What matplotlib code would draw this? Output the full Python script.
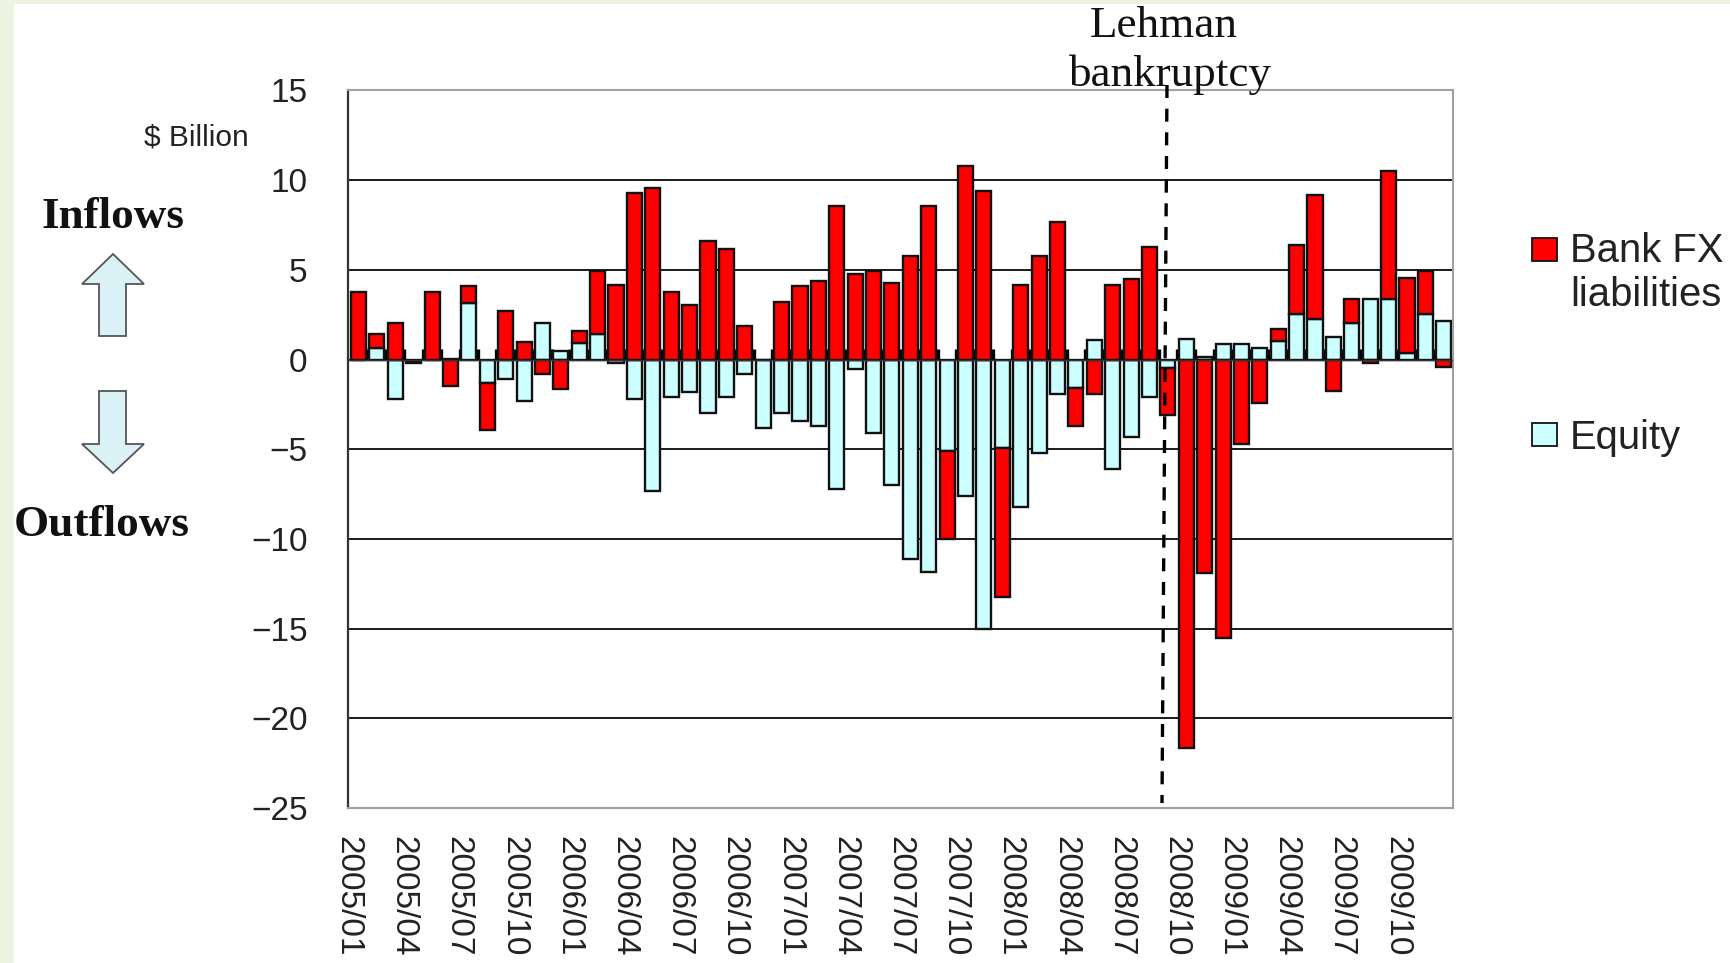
import numpy as np
import matplotlib
matplotlib.use("Agg")
import matplotlib.pyplot as plt
from matplotlib.patches import Polygon, Rectangle
from matplotlib.lines import Line2D

# Monthly flows, 2005/01 to 2009/12, $ billion
equity = [0.0, 0.65, -2.2, -0.1, 0.0, 0.05, 3.17, -1.3, -1.1, -2.3,
          2.06, 0.46, 0.95, 1.45, -0.2, -2.2, -7.3, -2.1, -1.8, -3.0,
          -2.1, -0.8, -3.82, -3.0, -3.4, -3.73, -7.2, -0.5, -4.1, -7.0,
          -11.1, -11.85, -5.1, -7.6, -15.0, -4.92, -8.2, -5.2, -1.9, -1.6,
          1.08, -6.1, -4.3, -2.1, -0.45, 1.17, 0.15, 0.87, 0.87, 0.65,
          1.06, 2.56, 2.26, 1.26, 2.06, 3.38, 3.38, 0.37, 2.56, 2.17]
bank_fx = [3.77, 0.8, 2.06, -0.1, 3.77, -1.5, 0.91, -2.63, 2.7, 0.96,
           -0.8, -1.63, 0.63, 3.47, 4.17, 9.28, 9.57, 3.78, 3.06, 6.59,
           6.18, 1.89, 0.0, 3.19, 4.08, 4.38, 8.57, 4.77, 4.92, 4.29,
           5.79, 8.57, -4.9, 10.78, 9.37, -8.33, 4.17, 5.79, 7.68, -2.1,
           -1.9, 4.17, 4.47, 6.29, -2.65, -21.66, -11.9, -15.55, -4.7, -2.4,
           0.63, 3.82, 6.92, -1.73, 1.32, -0.2, 7.12, 4.19, 2.37, -0.4]
tick_labels = ['2005/01', '2005/04', '2005/07', '2005/10', '2006/01', '2006/04',
               '2006/07', '2006/10', '2007/01', '2007/04', '2007/07', '2007/10',
               '2008/01', '2008/04', '2008/07', '2008/10', '2009/01', '2009/04',
               '2009/07', '2009/10']
y_ticks = [15, 10, 5, 0, -5, -10, -15, -20, -25]

W, H = 1731, 963
SANS = 'Liberation Sans'
SERIF = 'Liberation Serif'
RED = '#ff0000'
CYAN = '#ccffff'

def fx(px):
    return px / W

def fy(py):
    return 1 - py / H

fig = plt.figure(figsize=(W / 100, H / 100), dpi=100, facecolor='white')

# slide background strips
fig.add_artist(Rectangle((0, 0), fx(14), 1, transform=fig.transFigure,
                         facecolor='#eef2e2', edgecolor='none'))
fig.add_artist(Rectangle((0, fy(4)), 1, fy(0) - fy(4), transform=fig.transFigure,
                         facecolor='#eef2e2', edgecolor='none'))

ax = fig.add_axes([fx(348), fy(808), fx(1453 - 348), fy(90.5) - fy(808)])

eq = np.array(equity)
fx_liab = np.array(bank_fx)
x = np.arange(len(eq)) + 0.5
# bank flows stack on equity when both have the same sign
bottom = np.where(np.sign(eq) == np.sign(fx_liab), eq, 0)

ax.set_axisbelow(True)
ax.grid(axis='y', color='#1a1a1a', linewidth=1.4)
ax.vlines(np.arange(1, len(eq)), 0, 0.6, color='black', linewidth=2.4, zorder=1)
ax.bar(x, eq, width=0.82, color=CYAN, edgecolor='#111111', linewidth=1.7, zorder=2)
ax.bar(x, fx_liab, width=0.82, bottom=bottom, color=RED, edgecolor='#111111',
       linewidth=1.7, zorder=3)
ax.axhline(0, color='#333333', linewidth=1.0, zorder=4)

ax.set_xlim(0, len(eq))
ax.set_ylim(-25, 15)
ax.set_yticks(y_ticks)
ax.set_yticklabels([str(v).replace('-', '\u2212') for v in y_ticks],
                   fontsize=24, family=SANS, color='#222222')
ax.tick_params(axis='y', direction='in', length=9, width=1.4, pad=29, color='#222222')
ax.set_xticks(x[::3] - 0.57)
ax.set_xticklabels(tick_labels, rotation=270, fontsize=24, family=SANS, color='#222222')
ax.tick_params(axis='x', length=0, pad=20)
for side in ['top', 'right', 'bottom']:
    ax.spines[side].set_color('#a0a0a0')
    ax.spines[side].set_linewidth(1.5)
ax.spines['left'].set_color('#333333')
ax.spines['left'].set_linewidth(1.6)

# Lehman marker, hand-drawn in the original so slightly slanted
fig.add_artist(Line2D([fx(1167), fx(1162)], [fy(85), fy(803)], color='black',
                      linewidth=2.4, linestyle=(0, (3.9, 3.2)), zorder=5))
fig.text(fx(1164), fy(26), 'Lehman', family=SERIF, fontsize=32.5, color='#111111',
         ha='center', va='center')
fig.text(fx(1170), fy(75), 'bankruptcy', family=SERIF, fontsize=32.5, color='#111111',
         ha='center', va='center')

# left-hand annotations
fig.text(fx(196), fy(137), '$ Billion', family=SANS, fontsize=21.5, color='#222222',
         ha='center', va='center')
fig.text(fx(113), fy(217), 'Inflows', family=SERIF, fontsize=32.5, fontweight='bold',
         color='#111111', ha='center', va='center')
fig.text(fx(102), fy(525), 'Outflows', family=SERIF, fontsize=32.5, fontweight='bold',
         color='#111111', ha='center', va='center')

up_arrow = [(113, 254), (144, 284), (126, 284), (126, 336),
            (99, 336), (99, 284), (82, 284)]
down_arrow = [(113, 473), (144, 444), (126, 444), (126, 391),
              (99, 391), (99, 444), (82, 444)]
for arrow in [up_arrow, down_arrow]:
    fig.add_artist(Polygon([(fx(a), fy(b)) for a, b in arrow], closed=True,
                           transform=fig.transFigure, facecolor='#daf2f6',
                           edgecolor='#555555', linewidth=1.3))

# legend
fig.add_artist(Rectangle((fx(1532), fy(261)), fx(25), fy(238) - fy(261),
                         transform=fig.transFigure, facecolor=RED,
                         edgecolor='#111111', linewidth=1.3))
fig.add_artist(Rectangle((fx(1532), fy(446)), fx(25), fy(423) - fy(446),
                         transform=fig.transFigure, facecolor=CYAN,
                         edgecolor='#111111', linewidth=1.3))
fig.text(fx(1570), fy(251), 'Bank FX', family=SANS, fontsize=28.8, color='#222222', va='center')
fig.text(fx(1570), fy(295), 'liabilities', family=SANS, fontsize=28.8, color='#222222', va='center')
fig.text(fx(1570), fy(438), 'Equity', family=SANS, fontsize=28.8, color='#222222', va='center')

fig.savefig('out.png', dpi=100)
